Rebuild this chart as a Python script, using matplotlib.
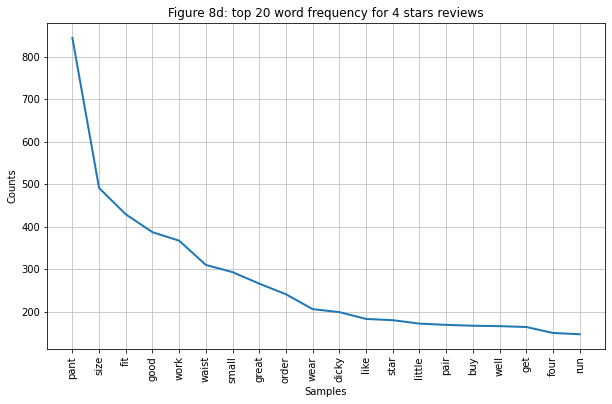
import matplotlib
matplotlib.use('Agg')
import matplotlib.pyplot as plt

words = ['pant', 'size', 'fit', 'good', 'work', 'waist', 'small', 'great', 'order', 'wear',
         'dicky', 'like', 'star', 'little', 'pair', 'buy', 'well', 'get', 'four', 'run']
counts = [844, 491, 429, 387, 367, 310, 293, 266, 241, 206,
          199, 183, 180, 172, 169, 167, 166, 164, 150, 147]

fig = plt.figure(figsize=(612/72, 404/72), dpi=72)
ax = fig.add_subplot(111)
fig.subplots_adjust(left=0.0768, right=0.9886, top=0.943, bottom=0.136)

ax.plot(range(len(words)), counts, linewidth=2)
ax.grid(True, color='silver')
ax.set_xticks(range(len(words)))
ax.set_xticklabels(words, rotation=90)
ax.set_xlabel('Samples')
ax.set_ylabel('Counts')
ax.set_title('Figure 8d: top 20 word frequency for 4 stars reviews')

fig.savefig('out.png', dpi=72)
